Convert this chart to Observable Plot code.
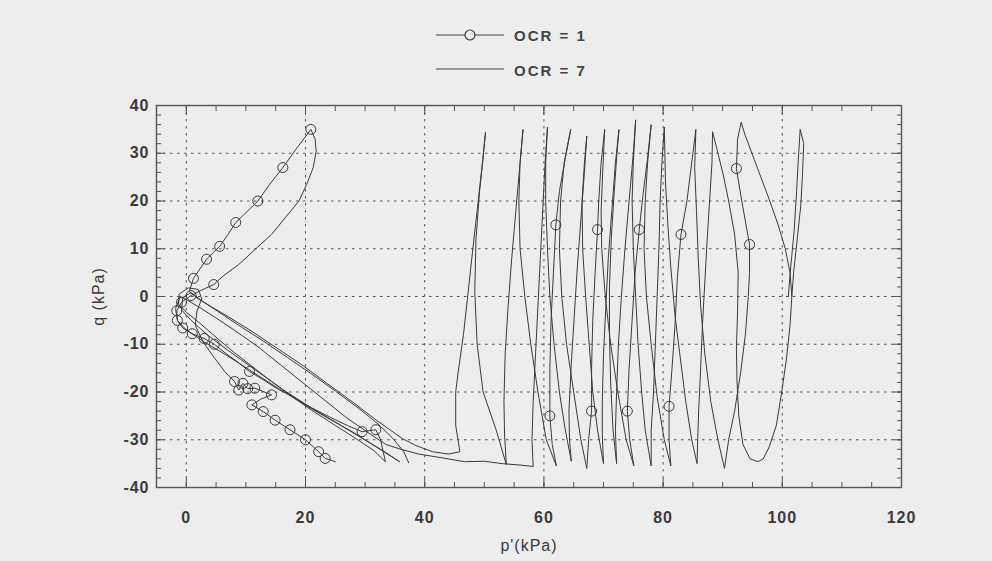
<!DOCTYPE html>
<html>
<head>
<meta charset="utf-8">
<script src="https://cdn.jsdelivr.net/npm/d3@7"></script>
<script src="https://cdn.jsdelivr.net/npm/@observablehq/plot@0.6"></script>
<style>
  html, body { margin: 0; padding: 0; background: #ededed; }
  body { width: 992px; height: 561px; overflow: hidden; position: relative;
         font-family: "Liberation Sans", Arial, sans-serif; }
  #legend { position: absolute; left: 0; top: 0; width: 992px; height: 90px; }
  .lg-row { position: absolute; left: 436px; height: 20px; display: flex; align-items: center; }
  .lg-row span { font-weight: bold; font-size: 15px; letter-spacing: 2px; color: #444; margin-left: 8px; }
  #chart { position: absolute; left: 0; top: 90px; }
  #chart svg text { letter-spacing: 1px; }
  #chart g[aria-label$="tick label"] text { font-weight: bold; }
</style>
</head>
<body>
<div id="legend">
  <div class="lg-row" style="top:25px">
    <svg width="70" height="20"><line x1="0" y1="10" x2="68" y2="10" stroke="#444" stroke-width="1.2"/><circle cx="34" cy="10" r="5" fill="#ededed" stroke="#444" stroke-width="1.2"/></svg>
    <span>OCR = 1</span>
  </div>
  <div class="lg-row" style="top:60px">
    <svg width="70" height="20"><line x1="0" y1="9" x2="68" y2="9" stroke="#444" stroke-width="1.2"/></svg>
    <span>OCR = 7</span>
  </div>
</div>
<div id="chart"></div>
<script>
// ---- axis ticks ----
const xMajor = [0, 20, 40, 60, 80, 100, 120];
const xMinor = [-5, 0, 5, 10, 15, 20, 25, 30, 35, 40, 45, 50, 55, 60, 65, 70, 75, 80, 85, 90, 95, 100, 105, 110, 115, 120];
const yMajor = [-40, -30, -20, -10, 0, 10, 20, 30, 40];
const yMinor = [-40, -38, -36, -34, -32, -30, -28, -26, -24, -22, -20, -18, -16, -14, -12, -10, -8, -6, -4, -2, 0,
                2, 4, 6, 8, 10, 12, 14, 16, 18, 20, 22, 24, 26, 28, 30, 32, 34, 36, 38, 40];
const xGrid = [0, 20, 40, 60, 80, 100];
const yGrid = [-30, -20, -10, 0, 10, 20, 30];

// ---- OCR = 1 stress path [p', q] ----
const ocr1Cycles = [
  [101.6,0],[101.3,5],[100.5,10],[99.3,15],[97.9,20],[96.4,25],[94.9,30],[93.7,34],[93.1,36.5],
  [92.5,33],[92.3,26.8],[93.2,20],[94.5,10.9],[94.5,5],[94.3,0],[93.8,-8],[93.0,-16],[92.0,-24],[91.0,-30],[90.3,-36],
  [89.2,-30],[88.0,-22],[87.0,-12],[86.3,-2],[85.9,8],[85.6,18],[85.3,27],[85.5,35],
  [84.9,29],[84.0,20],[83.0,13],[82.4,4],[82.0,-6],[81.5,-15],[81.0,-23],[81.0,-30],[81.3,-35.5],
  [80.2,-30],[79.0,-21],[78.0,-10],[77.2,0],[76.8,10],[77.0,20],[77.4,28],[78.0,36],
  [77.4,29],[76.6,21],[76.0,14],[75.3,5],[74.8,-5],[74.3,-15],[74.0,-24],[74.4,-30],[75.1,-35.5],
  [73.8,-30],[72.4,-20],[71.2,-10],[70.3,0],[69.7,10],[69.6,18],[69.9,27],[70.2,35],
  [69.6,28],[69.2,20],[69.0,14],[68.6,5],[68.2,-5],[68.0,-15],[68.0,-24],[67.5,-30],[67.2,-36],
  [66.2,-30],[65.0,-20],[63.8,-10],[63.0,0],[62.6,10],[62.8,20],[63.4,28],[64.5,35],
  [63.6,29],[62.6,22],[62.0,15],[61.6,5],[61.2,-5],[61.0,-15],[61.0,-25],[61.4,-31],[62.1,-35.5],
  [60.4,-30],[59.0,-20],[57.8,-10],[56.8,0],[56.0,10],[55.8,20],[56.0,28],[56.5,35],
  [56.0,28],[55.3,18],[54.6,8],[54.0,-2],[53.5,-12],[53.3,-22],[53.4,-29],[53.7,-35.2],
  [52.0,-28],[49.8,-20],[48.8,-10],[48.4,1],[48.6,12],[49.2,22],[49.8,29],[50.2,34.4],
  [49.6,27],[48.8,18],[47.9,8],[47.3,1],[46.5,-8],[45.6,-16],[45.2,-20],[45.2,-27],[45.9,-32.5]
];
const ocr1Sweep = [
  [45.9,-32.5],[44.0,-33],[41.3,-32.5],[38.5,-31.2],[36.3,-29.8],[32.0,-26],[27.8,-22],[23.5,-18.1],
  [19.4,-14.3],[15.2,-10.8],[11.0,-7.3],[7.0,-4.2],[4.0,-2],[2.0,-0.5],[0.5,1]
];
const ocr1Butterfly = [
  [0.5,1],[1.2,3.8],[2.3,5.8],[3.4,7.8],[4.5,9.2],[5.6,10.5],[7.0,13],[8.3,15.5],[10.2,17.8],[12.0,20],
  [14.0,23.5],[16.2,27],[18.5,31],[20.9,35],
  [21.6,33],[21.8,30.5],[21.3,27],[20.2,23.5],[18.9,20],[16.8,16.8],[14.3,13],[11.5,9.8],[8.8,6.7],
  [6.3,4.4],[4.6,2.5],[2.5,1.3],[0.8,0.2],[-0.8,-1.2],[-1.6,-3],[-1.5,-5],[-0.6,-6.6],[1.0,-7.8],
  [3.0,-8.8],[4.7,-10],[6.5,-11.8],[8.5,-13.6],[10.6,-15.7],[13.0,-17.5],[15.5,-19.5],[18.0,-21],
  [21.0,-23.3],[24.0,-25.2],[27.0,-27],[29.5,-28.3],[31.8,-27.9],[32.6,-30],[33.4,-34.6],
  [31.5,-32.3],[28.5,-29.8],[25.0,-27],[21.5,-24.2],[18.0,-21.2],[14.5,-18],[11.0,-14.6],[7.5,-11.2],
  [4.5,-8],[2.0,-5.3],[0.0,-3.3],[-1.3,-1.6],[-1.2,0.5],[0.3,1.8],[2.0,1.5],[2.6,-0.5],[1.8,-3],
  [1.5,-6],[2.8,-9.5],[4.8,-13],[6.5,-15.8],[8.1,-17.8],[8.8,-19.6],[9.5,-18.2],[10.3,-19.3],
  [11.5,-19.2],[14.3,-20.6],[12.5,-21.5],[11.0,-22.7],[12.9,-24.1],[14.9,-25.9],[17.4,-27.9],
  [20.0,-30],[22.2,-32.5],[23.3,-33.9],[25.0,-34.6]
];
const ocr1Markers = [
  [92.3,26.8],[94.5,10.9],[83.0,13],[81.0,-23],[76.0,14],[74.0,-24],[69.0,14],[68.0,-24],[62.0,15],[61.0,-25],
  [20.9,35],[16.2,27],[12.0,20],[8.3,15.5],[5.6,10.5],[3.4,7.8],[1.2,3.8],[4.6,2.5],
  [0.8,0.2],[-0.8,-1.2],[-1.6,-3],[-1.5,-5],[-0.6,-6.6],[1.0,-7.8],[3.0,-8.8],[4.7,-10],[10.6,-15.7],
  [29.5,-28.3],[31.8,-27.9],
  [8.1,-17.8],[8.8,-19.6],[9.5,-18.2],[10.3,-19.3],[11.5,-19.2],[14.3,-20.6],
  [11.0,-22.7],[12.9,-24.1],[14.9,-25.9],[17.4,-27.9],[20.0,-30],[22.2,-32.5],[23.3,-33.9]
];

// ---- OCR = 7 stress path [p', q] ----
const ocr7Cycles = [
  [101.0,0],[101.4,6],[102.0,14],[102.4,22],[102.7,29],[103.0,35],[103.6,32],[103.4,26],[103.1,19],[102.5,12],[101.9,5],[101.6,0],
  [101.3,-6],[100.7,-13],[99.9,-20],[99.0,-27],[97.8,-31.5],[96.8,-34],[95.9,-34.6],[94.6,-34],[93.4,-31],[92.7,-25],
  [92.4,-18],[92.3,-11],[92.5,-3],[92.6,5],[92.0,13],[91.0,20],[90.0,26],[89.0,31],[88.3,34.5],
  [88.2,28],[87.8,20],[87.4,12],[87.0,3],[86.6,-6],[86.3,-15],[86.0,-23],[85.8,-30],[85.7,-35],
  [84.8,-30],[83.8,-22],[82.9,-13],[82.0,-4],[81.3,6],[80.8,15],[80.4,24],[80.2,35.5],
  [79.8,28],[79.5,20],[79.3,10],[79.0,0],[78.7,-10],[78.4,-20],[78.0,-28],[78.0,-35.5],
  [77.0,-28],[76.4,-20],[75.8,-10],[75.4,0],[75.0,10],[74.8,20],[75.0,28],[75.4,37],
  [75.0,30],[74.3,20],[73.6,10],[73.0,0],[72.5,-10],[72.2,-20],[72.0,-28],[72.2,-35],
  [71.6,-28],[71.2,-18],[71.0,-8],[71.0,2],[71.3,12],[71.8,22],[72.2,29],[72.6,35],
  [72.0,28],[71.4,18],[70.8,8],[70.4,-2],[70.0,-12],[69.8,-22],[69.8,-29],[70.0,-35],
  [69.0,-28],[68.2,-20],[67.6,-10],[67.0,0],[66.5,10],[66.4,20],[66.8,28],[67.2,33.6],
  [66.8,26],[66.2,16],[65.6,6],[65.1,-4],[64.6,-14],[64.2,-24],[64.3,-30],[64.6,-34.5],
  [63.6,-28],[62.6,-20],[61.7,-10],[61.0,0],[60.6,10],[60.3,20],[60.3,28],[60.6,35.5],
  [60.2,28],[59.8,18],[59.4,8],[59.0,-2],[58.6,-12],[58.2,-22],[58.0,-30],[58.2,-35.6]
];
const ocr7Sweep = [
  [58.2,-35.6],[56.0,-35.3],[53.0,-35],[50.0,-34.5],[46.7,-34.6],[43.0,-33.8],[39.0,-33],[36.0,-32],
  [33.5,-31],[30.5,-28.5],[27.0,-25.5],[23.5,-22],[20.0,-18.5],[16.0,-14.5],[12.0,-10.5],[8.0,-7],
  [5.0,-4.5],[2.5,-2.5],[0.5,-1],[-1.0,0]
];
const ocr7Butterfly = [
  [-1.0,0],[-1.8,-2.5],[-1.5,-5],[0.0,-7],[3.0,-9.5],[7.0,-12.5],[11.0,-15.7],[15.5,-19.3],[19.4,-22.3],
  [23.5,-25.3],[27.8,-28.3],[31.0,-30.8],[33.5,-32.8],[35.8,-34.6],
  [33.0,-32.3],[29.0,-29.3],[25.0,-26.3],[20.0,-22.6],[16.0,-19.3],[11.5,-15.3],[7.0,-11.3],[3.5,-8],
  [0.8,-5],[-0.8,-2.8],[-0.6,-0.2],[0.8,0.8],[2.5,-0.8],[5.5,-3.3],[9.0,-6.2],[13.0,-9.4],[17.0,-12.8],
  [21.0,-16.2],[25.0,-19.8],[29.0,-23.5],[32.0,-26.5],[34.5,-29.5],[36.5,-32.5],[37.3,-34.8]
];

const toRows = (arr) => arr.map(([p, q]) => ({p, q}));
const ocr1 = toRows([...ocr1Cycles, ...ocr1Sweep.slice(1), ...ocr1Butterfly.slice(1)]);
const ocr7 = toRows([...ocr7Cycles, ...ocr7Sweep.slice(1), ...ocr7Butterfly.slice(1)]);
const marks1 = toRows(ocr1Markers);

const ink = "#3a3a3a";
const axisInk = "#555";
const plain = (d) => String(d);

const chart = Plot.plot({
  width: 992,
  height: 471,
  marginTop: 15,
  marginRight: 91,
  marginBottom: 74,
  marginLeft: 156,
  style: {background: "transparent", fontFamily: "'Liberation Sans', Arial, sans-serif", fontSize: "16px", color: "#333", overflow: "visible"},
  x: {domain: [-5, 120]},
  y: {domain: [-40, 40]},
  marks: [
    Plot.ruleX(xGrid, {stroke: axisInk, strokeWidth: 1, strokeDasharray: "2.5,4.5"}),
    Plot.ruleY(yGrid, {stroke: axisInk, strokeWidth: 1, strokeDasharray: "2.5,4.5"}),
    Plot.axisX({anchor: "bottom", ticks: xMinor, tickSize: -5, tickFormat: () => "", label: null, stroke: axisInk}),
    Plot.axisX({anchor: "bottom", ticks: xMajor, tickSize: -9, tickFormat: () => "", label: null, stroke: axisInk}),
    Plot.axisX({anchor: "top", ticks: xMinor, tickSize: -5, tickFormat: () => "", label: null, stroke: axisInk}),
    Plot.axisX({anchor: "top", ticks: xMajor, tickSize: -9, tickFormat: () => "", label: null, stroke: axisInk}),
    Plot.axisY({anchor: "left", ticks: yMinor, tickSize: -5, tickFormat: () => "", label: null, stroke: axisInk}),
    Plot.axisY({anchor: "left", ticks: yMajor, tickSize: -9, tickFormat: () => "", label: null, stroke: axisInk}),
    Plot.axisY({anchor: "right", ticks: yMinor, tickSize: -5, tickFormat: () => "", label: null, stroke: axisInk}),
    Plot.axisY({anchor: "right", ticks: yMajor, tickSize: -9, tickFormat: () => "", label: null, stroke: axisInk}),
    Plot.axisX({anchor: "bottom", ticks: xMajor, tickSize: 0, tickPadding: 24, tickFormat: plain,
                label: "p'(kPa)", labelAnchor: "center", labelOffset: 63, labelArrow: "none", fill: "#3a3a3a"}),
    Plot.axisY({anchor: "left", ticks: yMajor, tickSize: 0, tickPadding: 7, tickFormat: plain,
                label: "q (kPa)", labelAnchor: "center", labelOffset: 64, labelArrow: "none", fill: "#3a3a3a"}),
    Plot.line(ocr7, {x: "p", y: "q", stroke: ink, strokeWidth: 1}),
    Plot.line(ocr1, {x: "p", y: "q", stroke: ink, strokeWidth: 1}),
    Plot.dot(marks1, {x: "p", y: "q", r: 5, stroke: ink, strokeWidth: 1, fill: "none"}),
    Plot.frame({stroke: axisInk, strokeWidth: 1.4})
  ]
});
document.getElementById("chart").appendChild(chart);
</script>
</body>
</html>
